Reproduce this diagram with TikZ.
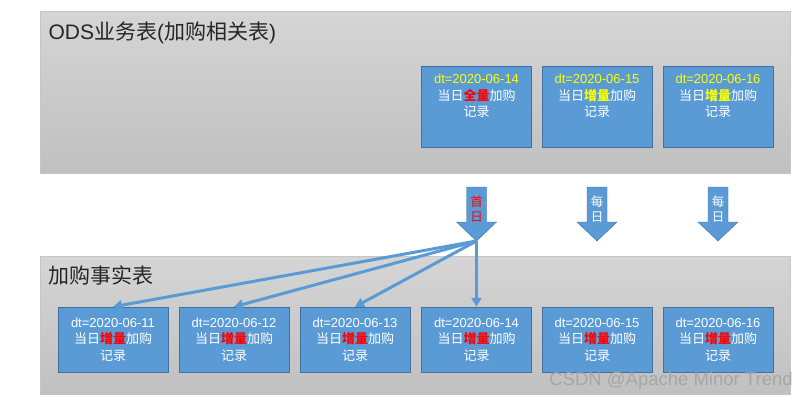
\documentclass[tikz,border=0pt]{standalone}
\usepackage{fontspec}
\setmainfont{Noto Sans CJK SC}
\newfontfamily\latinfont{Liberation Sans}
\usepackage{tikz}
\usetikzlibrary{positioning,arrows.meta}
\definecolor{boxblue}{HTML}{5B9BD5}
\definecolor{boxline}{HTML}{41719C}
\definecolor{paneltop}{HTML}{D5D5D5}
\definecolor{panelbot}{HTML}{C0C0C0}
\definecolor{dtyellow}{HTML}{FFFF00}
\tikzstyle{panel} = [rectangle, draw=gray!45, top color=paneltop, bottom color=panelbot, minimum width=750pt, anchor=north west]
\tikzstyle{record} = [rectangle, minimum width=110pt, minimum height=65pt, draw=boxline, fill=boxblue, text=white, align=center, inner sep=0pt, font=\fontsize{13}{16.5}\selectfont]
\tikzstyle{title} = [anchor=west, text=black!85, font=\fontsize{21}{24}\selectfont]
\tikzstyle{daily} = [draw=boxline, fill=boxblue]
\tikzstyle{dailytext} = [align=center, font=\fontsize{12.5}{15}\selectfont]
\tikzstyle{link} = [line width=3pt, draw=boxblue, -{Triangle[width=10pt,length=9pt]}]

\begin{document}
\begin{tikzpicture}[x=1pt,y=-1pt]
 \useasboundingbox (0,0) rectangle (810,401);
% panels
 \node[panel, minimum height=162pt] (ods) at (40,11) {};
 \node[title] (odsname) at (45,33) {{\latinfont ODS}业务表{\latinfont (}加购相关表{\latinfont )}};
 \node[panel, minimum height=138pt] (fact) at (40,256) {};
 \node[title] (factname) at (45,275) {加购事实表};
% ods records
 \node[record, minimum height=81pt] (o14) at (476.5,106.5)
              {\textcolor{dtyellow}{\latinfont dt=2020-06-14}\\当日\textcolor{red}{\textbf{全量}}加购\\记录\\\strut};
 \node[record, minimum height=81pt] (o15) at (o14) [xshift=120.5pt]
              {\textcolor{dtyellow}{\latinfont dt=2020-06-15}\\当日\textcolor{dtyellow}{\textbf{增量}}加购\\记录\\\strut};
 \node[record, minimum height=81pt] (o16) at (o15) [xshift=121pt]
              {\textcolor{dtyellow}{\latinfont dt=2020-06-16}\\当日\textcolor{dtyellow}{\textbf{增量}}加购\\记录\\\strut};
% fact records
 \node[record] (f11) at (113,339.5)
              {{\latinfont dt=2020-06-11}\\当日\textcolor{red}{\textbf{增量}}加购\\记录};
 \node[record] (f12) at (f11) [xshift=121pt]
              {{\latinfont dt=2020-06-12}\\当日\textcolor{red}{\textbf{增量}}加购\\记录};
 \node[record] (f13) at (f12) [xshift=121pt]
              {{\latinfont dt=2020-06-13}\\当日\textcolor{red}{\textbf{增量}}加购\\记录};
 \node[record] (f14) at (f13) [xshift=121.5pt]
              {{\latinfont dt=2020-06-14}\\当日\textcolor{red}{\textbf{增量}}加购\\记录};
 \node[record] (f15) at (f14) [xshift=120.5pt]
              {{\latinfont dt=2020-06-15}\\当日\textcolor{red}{\textbf{增量}}加购\\记录};
 \node[record] (f16) at (f15) [xshift=121pt]
              {{\latinfont dt=2020-06-16}\\当日\textcolor{red}{\textbf{增量}}加购\\记录};
% block arrows
 \coordinate (tip1) at (476.5,241);
 \coordinate (tip2) at (597,241);
 \coordinate (tip3) at (718,241);
 \draw[daily] (tip1) -- ++(20,-19) -- ++(-10,0) -- ++(0,-35) -- ++(-20,0)
              -- ++(0,35) -- ++(-10,0) -- cycle;
 \draw[daily] (tip2) -- ++(20,-19) -- ++(-10,0) -- ++(0,-35) -- ++(-20,0)
              -- ++(0,35) -- ++(-10,0) -- cycle;
 \draw[daily] (tip3) -- ++(20,-19) -- ++(-10,0) -- ++(0,-35) -- ++(-20,0)
              -- ++(0,35) -- ++(-10,0) -- cycle;
 \node[dailytext, text=red] (first) at (476.5,209.5) {首\\日};
 \node[dailytext, text=white] (every2) at (597,209.5) {每\\日};
 \node[dailytext, text=white] (every3) at (718,209.5) {每\\日};
% links
 \draw[link] (tip1) -- (f11.north);
 \draw[link] (tip1) -- (f12.north);
 \draw[link] (tip1) -- (f13.north);
 \draw[link] (tip1) -- (f14.north);
% watermark
 \node[text=black!35, font=\latinfont\fontsize{18.5}{21}\selectfont] (mark) at (671,381)
              {CSDN @Apache Minor Trend};
\end{tikzpicture}
\end{document}
